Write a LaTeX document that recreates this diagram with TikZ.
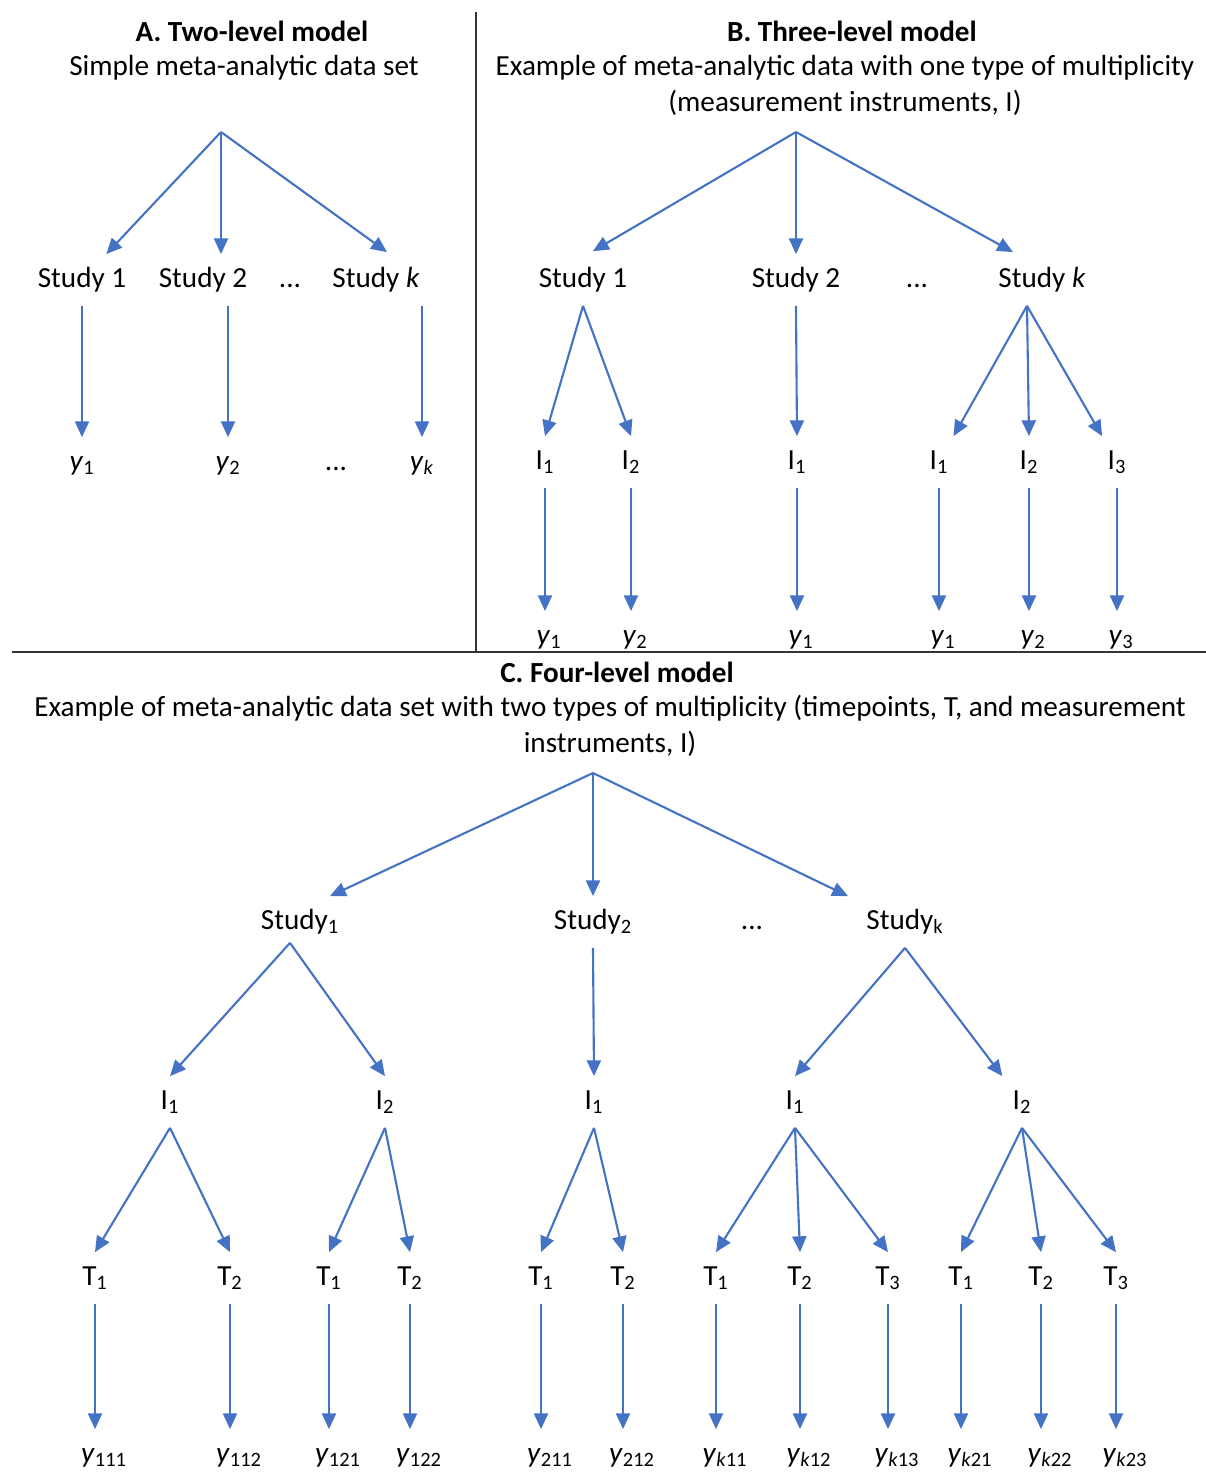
\documentclass[tikz,border=0pt]{standalone}
\usepackage{fontspec}
\setmainfont{Carlito}
\usetikzlibrary{arrows.meta, calc}
\definecolor{cblue}{HTML}{4472C4}
\tikzset{
  every picture/.style={line width=1pt},
  lbl/.style={inner sep=0pt, minimum height=1cm, minimum width=1cm, text height=12pt, text depth=4pt, font=\fontsize{16.6}{19}\selectfont},
  arrow/.style={-{Triangle[length=9pt, width=8pt]}, draw=cblue, line width=1.2pt},
  title/.style={font=\fontsize{16.6}{19}\selectfont\bfseries},
  note/.style={font=\fontsize{16.6}{20.5}\selectfont, align=center},
  rule/.style={draw=black!80, line width=1.3pt},
}

\begin{document}
\begin{tikzpicture}[x=0.02cm, y=-0.02cm]
  \useasboundingbox (0,0) rectangle (1206,1472);
  % frame lines
  \draw[rule] (476,12) -- (476,652);
  \draw[rule] (12,652) -- (1206,652);
  % A: two-level
  \node[title] (tA) at (252,31) {A. Two-level model};
  \node[note] (nA) at (244,68) {Simple meta-analytic data set};
  \coordinate (rA) at (221,132);
  \node[lbl] (sA1) at (82,280) {Study 1};
  \node[lbl] (sA2) at (203,280) {Study 2};
  \node[lbl] (dA1) at (290,280) {...};
  \node[lbl] (sAk) at (376,280) {Study \textit{k}};
  \node[lbl] (yA1) at (82,463) {\textit{y}\textsubscript{1}};
  \node[lbl] (yA2) at (228,463) {\textit{y}\textsubscript{2}};
  \node[lbl] (dA2) at (336,463) {...};
  \node[lbl] (yAk) at (422,463) {\textit{y}\textsubscript{\textit{k}}};
  \draw[arrow] (rA) -- (sA1);
  \draw[arrow] (rA) -- (rA |- sA2.north);
  \draw[arrow] (rA) -- ($(sAk.north)+(11,-2)$);
  \draw[arrow] (sA1.south) -- (yA1.north);
  \draw[arrow] (yA2.north |- sA2.south) -- (yA2.north);
  \draw[arrow] (yAk.north |- sAk.south) -- (yAk.north);
  % B: three-level
  \node[title] (tB) at (852,31) {B. Three-level model};
  \node[note] (nB) at (845,85.5) {Example of meta-analytic data with one type of multiplicity\\(measurement instruments, I)};
  \coordinate (rB) at (796,132);
  \node[lbl] (sB1) at (583,280) {Study 1};
  \node[lbl] (sB2) at (796,280) {Study 2};
  \node[lbl] (dB1) at (917,280) {...};
  \node[lbl] (sBk) at (1042,280) {Study \textit{k}};
  \draw[arrow] (rB) -- ($(sB1.north)+(10,-3)$);
  \draw[arrow] (rB) -- (sB2.north);
  \draw[arrow] (rB) -- ($(sBk.north)+(-29,-2)$);
  \coordinate (aBk) at ($(sBk.south)+(-15,0)$);
  \foreach \n/\x/\sub in {1/545/1, 2/631/2, 3/797/1, 4/939/1, 5/1029/2, 6/1117/3}{
    \node[lbl] (iB\n) at (\x,462) {I\textsubscript{\sub}};
    \node[lbl] (yB\n) at (\x+4,637) {\textit{y}\textsubscript{\sub}};
    \draw[arrow] (iB\n.south) -- (iB\n.south |- yB\n.north);
  }
  \draw[arrow] (sB1.south) -- (iB1.north);
  \draw[arrow] (sB1.south) -- (iB2.north);
  \draw[arrow] (sB2.south) -- (iB3.north);
  \draw[arrow] (aBk) -- (iB4);
  \draw[arrow] (aBk) -- (iB5.north);
  \draw[arrow] (aBk) -- (iB6);
  % C: four-level
  \node[title] (tC) at (617,672) {C. Four-level model};
  \node[note] (nC) at (610,726) {Example of meta-analytic data set with two types of multiplicity (timepoints, T, and measurement\\instruments, I)};
  \coordinate (rC) at (593,773);
  \node[lbl] (sC1) at (300,922) {Study\textsubscript{1}};
  \node[lbl] (sC2) at (593,922) {Study\textsubscript{2}};
  \node[lbl] (dC) at (752,922) {...};
  \node[lbl] (sCk) at (905,922) {Study\textsubscript{k}};
  \draw[arrow] (rC) -- ($(sC1.north)+(30,0)$);
  \draw[arrow] (rC) -- (sC2.north);
  \draw[arrow] (rC) -- ($(sCk.north)+(-57,0)$);
  \coordinate (aC1) at ($(sC1.south)+(-10,-5)$);
  \node[lbl] (iC1) at (170,1102) {I\textsubscript{1}};
  \node[lbl] (iC2) at (385,1102) {I\textsubscript{2}};
  \node[lbl] (iC3) at (594,1102) {I\textsubscript{1}};
  \node[lbl] (iC4) at (795,1102) {I\textsubscript{1}};
  \node[lbl] (iC5) at (1022,1102) {I\textsubscript{2}};
  \draw[arrow] (aC1) -- (iC1.north);
  \draw[arrow] (aC1) -- (iC2.north);
  \draw[arrow] (sC2.south) -- (iC3.north);
  \draw[arrow] (sCk.south) -- (iC4.north);
  \draw[arrow] (sCk.south) -- (iC5);
  \foreach \n/\x/\m/\sub/\p in {1/95/1/111/1, 2/230/2/112/1, 3/329/1/121/2, 4/410/2/122/2,
      5/541/1/211/3, 6/623/2/212/3, 7/716/1/\textit{k}11/4, 8/800/2/\textit{k}12/4,
      9/888/3/\textit{k}13/4, 10/961/1/\textit{k}21/5, 11/1041/2/\textit{k}22/5, 12/1116/3/\textit{k}23/5}{
    \node[lbl] (tC\n) at (\x,1278) {T\textsubscript{\m}};
    \node[lbl] (yC\n) at (\x+9,1455) {\textit{y}\textsubscript{\sub}};
    \draw[arrow] (iC\p.south) -- (tC\n.north);
    \draw[arrow] (tC\n.south) -- (tC\n.south |- yC\n.north);
  }
\end{tikzpicture}
\end{document}
